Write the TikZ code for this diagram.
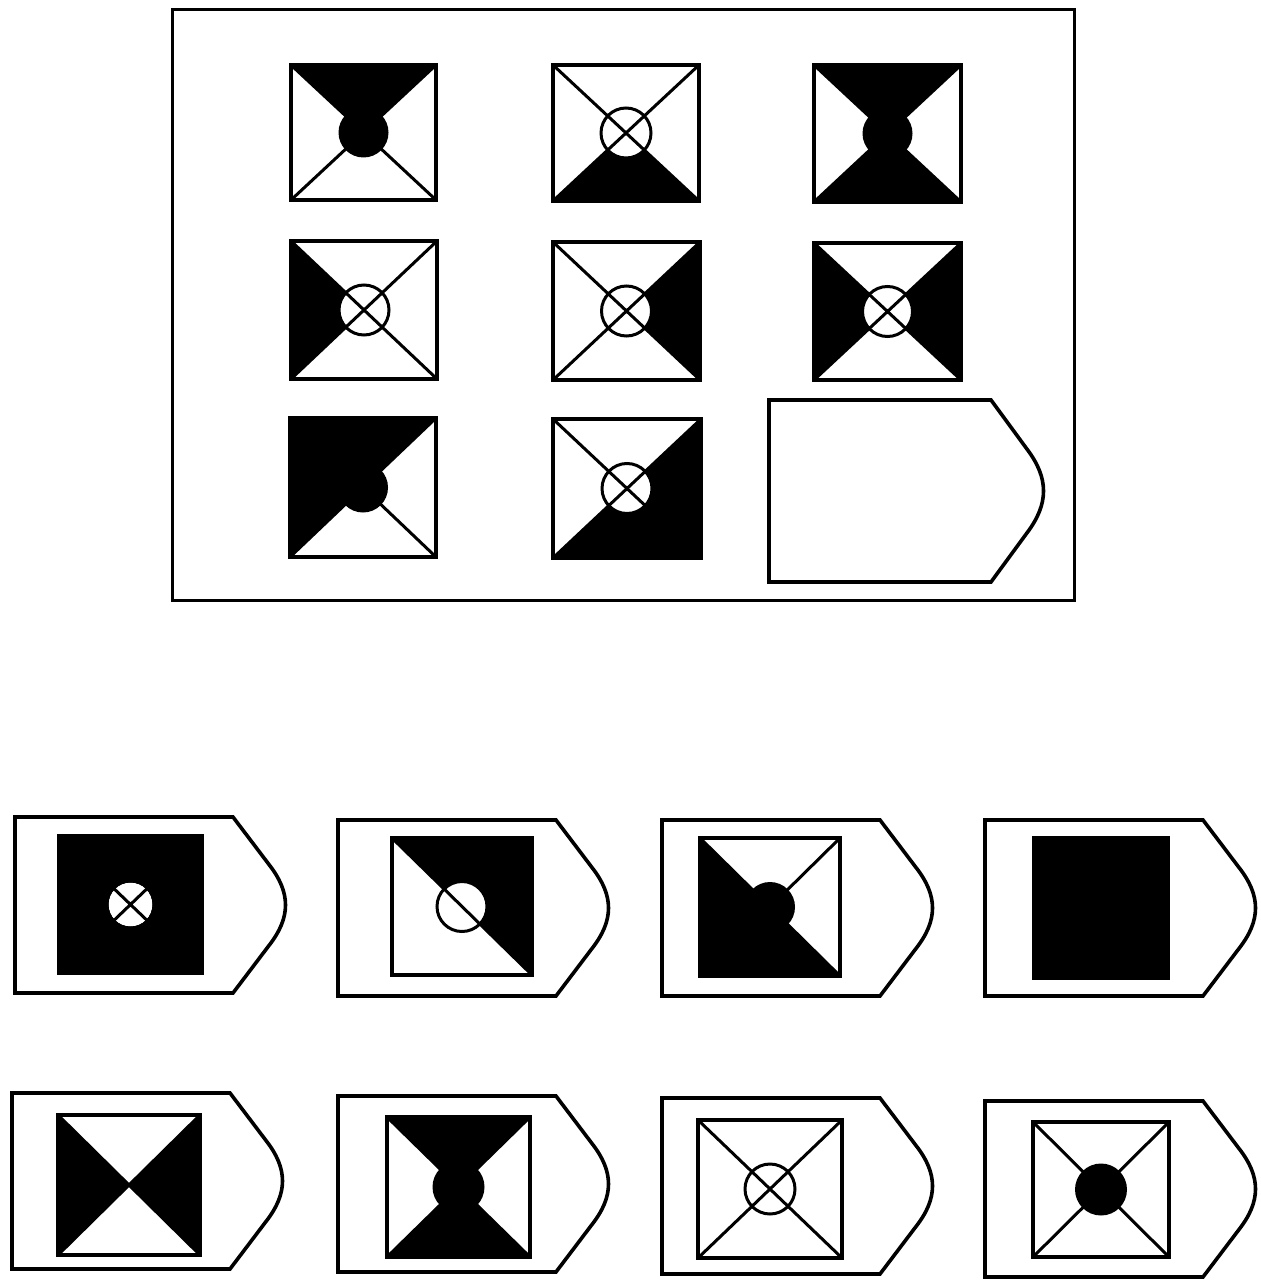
\documentclass[tikz,border=0pt]{standalone}
\colorlet{ink}{black}
\newcommand{\corners}[2]{%
  \coordinate (tl) at (0,0);
  \coordinate (tr) at (#1,0);
  \coordinate (br) at (#1,#2);
  \coordinate (bl) at (0,#2);
  \coordinate (c) at ({#1/2},{#2/2});}
\newcommand{\tagshape}[4]{%
  \draw[outline] (#1,#2) -- ({#1+#3-54},#2) -- ({#1+#3-18},{#2+0.27*#4})
    .. controls ({#1+#3+4},{#2+0.43*#4}) and ({#1+#3+4},{#2+0.57*#4}) .. ({#1+#3-18},{#2+0.73*#4})
    -- ({#1+#3-54},{#2+#4}) -- (#1,{#2+#4}) -- cycle;}
\begin{document}
\begin{tikzpicture}[x=1pt, y=-1pt, outline/.style={line width=3.6pt, line join=miter}, diag/.style={line width=3pt}, ring/.style={fill=white, draw, line width=3pt}, dot/.style={fill=ink}, shade/.style={fill=ink}]
\useasboundingbox (0,0) rectangle (1260,1281);

% Matrix frame
\draw[outline, line width=3pt] (172,10) rectangle (1074,600);

% Row 1
\begin{scope}[shift={(291,65)}]
  \corners{145}{135}
  \path[shade] (tl) -- (tr) -- (c) -- cycle;
  \draw[diag] (tl) -- (br) (tr) -- (bl);
  \path[dot] (c) circle[radius=25pt];
  \draw[outline] (tl) rectangle (br);
\end{scope}
\begin{scope}[shift={(553,65)}]
  \corners{146}{136}
  \path[shade] (bl) -- (br) -- (c) -- cycle;
  \path[ring] (c) circle[radius=25pt];
  \draw[diag] (tl) -- (br) (tr) -- (bl);
  \draw[outline] (tl) rectangle (br);
\end{scope}
\begin{scope}[shift={(814,65)}]
  \corners{147}{137}
  \path[shade] (tl) -- (tr) -- (c) -- cycle (bl) -- (br) -- (c) -- cycle;
  \draw[diag] (tl) -- (br) (tr) -- (bl);
  \path[dot] (c) circle[radius=25pt];
  \draw[outline] (tl) rectangle (br);
\end{scope}

% Row 2
\begin{scope}[shift={(291,241)}]
  \corners{146}{138}
  \path[shade] (tl) -- (bl) -- (c) -- cycle;
  \path[ring] (c) circle[radius=25pt];
  \draw[diag] (tl) -- (br) (tr) -- (bl);
  \draw[outline] (tl) rectangle (br);
\end{scope}
\begin{scope}[shift={(553,242)}]
  \corners{147}{138}
  \path[shade] (tr) -- (br) -- (c) -- cycle;
  \path[ring] (c) circle[radius=25pt];
  \draw[diag] (tl) -- (br) (tr) -- (bl);
  \draw[outline] (tl) rectangle (br);
\end{scope}
\begin{scope}[shift={(814,243)}]
  \corners{147}{137}
  \path[shade] (tl) -- (bl) -- (c) -- cycle (tr) -- (br) -- (c) -- cycle;
  \path[ring] (c) circle[radius=25pt];
  \draw[diag] (tl) -- (br) (tr) -- (bl);
  \draw[outline] (tl) rectangle (br);
\end{scope}

% Row 3
\begin{scope}[shift={(290,418)}]
  \corners{146}{139}
  \path[shade] (tl) -- (tr) -- (bl) -- cycle;
  \draw[diag] (tl) -- (br) (tr) -- (bl);
  \path[dot] (c) circle[radius=25pt];
  \draw[outline] (tl) rectangle (br);
\end{scope}
\begin{scope}[shift={(553,419)}]
  \corners{148}{139}
  \path[shade] (tr) -- (br) -- (bl) -- cycle;
  \path[ring] (c) circle[radius=25pt];
  \draw[diag] (tl) -- (br) (tr) -- (bl);
  \draw[outline] (tl) rectangle (br);
\end{scope}
\tagshape{769}{400}{276}{182}

% Options
\tagshape{15}{817}{272}{176}
\tagshape{338}{820}{272}{176}
\tagshape{662}{820}{272}{176}
\tagshape{985}{820}{272}{176}
\tagshape{12}{1093}{272}{176}
\tagshape{338}{1096}{272}{176}
\tagshape{662}{1098}{272}{176}
\tagshape{985}{1101}{272}{176}

\begin{scope}[shift={(59,836)}]
  \corners{143}{137}
  \path[shade] (tl) rectangle (br);
  \path[fill=white] (c) circle[radius=22pt];
  \draw[diag] (tl) -- (br) (tr) -- (bl);
  \path[shade] (tl) rectangle (br) [even odd rule] (c) circle[radius=22pt];
  \draw[outline] (tl) rectangle (br);
\end{scope}
\begin{scope}[shift={(392,838)}]
  \corners{140}{137}
  \path[shade] (tl) -- (tr) -- (br) -- cycle;
  \path[ring] (c) circle[radius=25pt];
  \draw[diag] (tl) -- (br);
  \draw[outline] (tl) rectangle (br);
\end{scope}
\begin{scope}[shift={(700,838)}]
  \corners{140}{138}
  \path[shade] (tl) -- (bl) -- (br) -- cycle;
  \draw[diag] (tl) -- (br) (tr) -- (bl);
  \path[dot] (c) circle[radius=25pt];
  \draw[outline] (tl) rectangle (br);
\end{scope}
\begin{scope}[shift={(1034,838)}]
  \corners{134}{140}
  \path[shade] (tl) rectangle (br);
  \draw[outline] (tl) rectangle (br);
\end{scope}
\begin{scope}[shift={(58,1115)}]
  \corners{142}{140}
  \path[shade] (tl) -- (bl) -- (c) -- cycle (tr) -- (br) -- (c) -- cycle;
  \draw[diag] (tl) -- (br) (tr) -- (bl);
  \draw[outline] (tl) rectangle (br);
\end{scope}
\begin{scope}[shift={(387,1117)}]
  \corners{143}{140}
  \path[shade] (tl) -- (tr) -- (c) -- cycle (bl) -- (br) -- (c) -- cycle;
  \draw[diag] (tl) -- (br) (tr) -- (bl);
  \path[dot] (c) circle[radius=26pt];
  \draw[outline] (tl) rectangle (br);
\end{scope}
\begin{scope}[shift={(698,1120)}]
  \corners{144}{138}
  \path[ring] (c) circle[radius=25pt];
  \draw[diag] (tl) -- (br) (tr) -- (bl);
  \draw[outline] (tl) rectangle (br);
\end{scope}
\begin{scope}[shift={(1033,1122)}]
  \corners{136}{135}
  \draw[diag] (tl) -- (br) (tr) -- (bl);
  \path[dot] (c) circle[radius=26pt];
  \draw[outline] (tl) rectangle (br);
\end{scope}

\end{tikzpicture}
\end{document}
